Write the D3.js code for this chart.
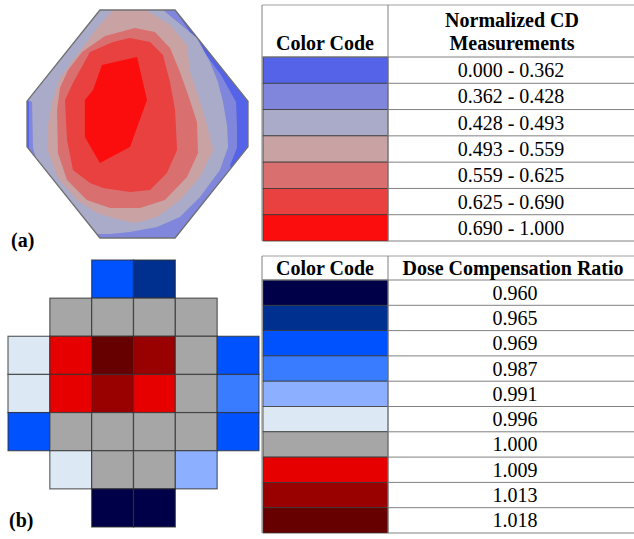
<!DOCTYPE html>
<html>
<head>
<meta charset="utf-8">
<script src="https://cdn.jsdelivr.net/npm/d3@7"></script>
<style>
  html, body { margin: 0; padding: 0; background: #fff; }
  svg { display: block; }
  text { font-family: "Liberation Serif", "Times New Roman", serif; fill: #000; }
</style>
</head>
<body>
<svg id="chart" width="634" height="539"></svg>
<script>
// ---------------- DATA ----------------
// (a) Normalized CD contour legend
const cdRanges = ["0.000 - 0.362", "0.362 - 0.428", "0.428 - 0.493", "0.493 - 0.559",
                  "0.559 - 0.625", "0.625 - 0.690", "0.690 - 1.000"];
const cdColors = ["#5563e8", "#7f86dc", "#a9abc8", "#c9a2a3", "#da6f6f", "#e94040", "#fb0d0d"];

// wafer outline (wafer coordinates 0..100)
const waferOutline = [[33,0],[67,0],[100,40],[100,60],[67,100],[33,100],[0,60],[0,40]];

// contour band outer boundaries (wafer coordinates), band index 1..6 -> cdRanges
const band1Outline = [[64.7,-3.1],[77.8,15.4],[87.8,28.5],[94.6,40.4],[95.0,50.4],[95.0,60.5],
  [91.9,68.0],[93.2,72.4],[85.1,85.5],[71.5,103],[30.8,103],[-3.2,61.4],[0.9,60.5],[0.9,40.4],
  [-3.2,37.3],[30.8,-4.4]];
const band2Outline = [[28.5,-4.4],[61.5,-3.1],[61.5,0],[76.9,12.3],[82.8,22.8],[86.4,31.6],
  [88.7,40.4],[90.5,50.4],[91.0,60.1],[87.3,70.2],[78.3,82.0],[69.2,90.8],[58.8,95.2],
  [46.6,97.4],[37.6,98.2],[30.8,98.2],[5.9,71.1],[2.7,60.5],[2.3,40.4],[-3.2,37.3]];
const band3Outline = [[9.5,50.4],[11.3,40.4],[14.9,29.8],[22.6,19.7],[31.7,7.9],[39.8,-0.9],
  [52.5,-0.9],[64.7,6.6],[72.4,15.4],[73.8,27.2],[76.9,36.0],[81.4,50.4],[84.2,61.4],
  [78.3,73.2],[69.2,83.3],[58.8,90.8],[48.9,93.4],[42.1,92.1],[31.7,89.0],[22.6,83.3],
  [13.6,73.2],[9.0,60.5]];
const band4Outline = [[13.6,43.9],[14.9,34.2],[18.6,26.3],[24.9,18.4],[35.3,11.4],[48.9,7.9],
  [57.9,9.6],[64.7,16.7],[69.2,27.2],[72.9,37.3],[76.9,49.1],[77.4,62.7],[72.4,73.2],
  [62.4,83.3],[51.1,86.8],[37.6,86.8],[27.1,83.3],[18.1,74.6],[14.0,62.7]];
const band5Outline = [[17.2,39.5],[20.8,32.0],[28.5,18.4],[38.9,14.0],[46.6,12.3],[55.7,14.0],
  [61.5,19.7],[64.7,31.6],[67.0,43.9],[67.9,61.4],[63.3,71.5],[55.7,78.9],[46.6,79.8],
  [34.4,78.1],[28.5,75.9],[20.8,70.2],[18.1,57.0]];
const band6Outline = [[33.9,24.1],[49.8,20.6],[54.3,39.5],[46.6,60.1],[33.0,67.1],[26.2,55.7],
  [26.2,39.5],[29.9,35.1]];

// (b) Dose compensation ratio legend
const ratioLabels = ["0.960", "0.965", "0.969", "0.987", "0.991", "0.996", "1.000", "1.009", "1.013", "1.018"];
const ratioColors = ["#000048", "#00308f", "#0052ff", "#3a7cff", "#8cb0ff", "#dce9f5", "#a6a6a6", "#e60000", "#990000", "#660000"];

// dose map (rows top->bottom, cols left->right), null = no field
const doseMap = [
  [null,    null,    "0.969", "0.965", null,    null   ],
  [null,    "1.000", "1.000", "1.000", "1.000", null   ],
  ["0.996", "1.009", "1.018", "1.013", "1.000", "0.969"],
  ["0.996", "1.009", "1.013", "1.009", "1.000", "0.987"],
  ["0.969", "1.000", "1.000", "1.000", "1.000", "0.969"],
  [null,    "0.996", "1.000", "1.000", "0.991", null   ],
  [null,    null,    "0.960", "0.960", null,    null   ]
];

// ---------------- DRAW ----------------
const svg = d3.select("#chart");

// ---- (a) contour map ----
const xA = d3.scaleLinear().domain([0, 100]).range([27, 248]);
const yA = d3.scaleLinear().domain([0, 100]).range([10, 238]);
const lineA = d3.line().x(d => xA(d[0])).y(d => yA(d[1])).curve(d3.curveLinearClosed);

svg.append("defs").append("clipPath").attr("id", "wafer")
  .append("path").attr("d", lineA(waferOutline));

const gA = svg.append("g");
gA.append("path").attr("d", lineA(waferOutline)).attr("fill", cdColors[0]);

const bands = [band1Outline, band2Outline, band3Outline, band4Outline, band5Outline, band6Outline];
gA.append("g").attr("clip-path", "url(#wafer)")
  .selectAll("path").data(bands).join("path")
  .attr("d", d => lineA(d))
  .attr("fill", (d, i) => cdColors[i + 1]);

gA.append("path").attr("d", lineA(waferOutline))
  .attr("fill", "none").attr("stroke", "#707070").attr("stroke-width", 1.3);

svg.append("text").attr("x", 11).attr("y", 247)
  .attr("font-size", 20).attr("font-weight", "bold").text("(a)");

// ---- table helper ----
function drawTable(cfg) {
  const g = svg.append("g");
  const y = d3.scaleBand().domain(cfg.labels).range([cfg.bodyTop, cfg.bodyBottom]);
  g.selectAll("rect.sw").data(cfg.labels).join("rect")
    .attr("class", "sw")
    .attr("x", cfg.left + 1).attr("y", d => y(d))
    .attr("width", cfg.divider - cfg.left - 1).attr("height", y.bandwidth())
    .attr("fill", (d, i) => cfg.colors[i])
    .attr("stroke", "#3a3a3a").attr("stroke-width", 0.8);
  const ys = cfg.labels.map(d => y(d)).concat([cfg.bodyBottom]);
  g.selectAll("line.h").data(ys).join("line")
    .attr("x1", cfg.divider).attr("x2", cfg.right)
    .attr("y1", d => d).attr("y2", d => d)
    .attr("stroke", "#808080").attr("stroke-width", 1);
  g.append("line").attr("x1", cfg.left).attr("x2", cfg.right)
    .attr("y1", cfg.top).attr("y2", cfg.top)
    .attr("stroke", "#a0a0a0").attr("stroke-width", 1);
  g.append("line").attr("x1", cfg.left).attr("x2", cfg.divider)
    .attr("y1", cfg.bodyTop).attr("y2", cfg.bodyTop)
    .attr("stroke", "#808080").attr("stroke-width", 1);
  [cfg.left, cfg.divider].forEach(x => {
    g.append("line").attr("x1", x).attr("x2", x)
      .attr("y1", cfg.top).attr("y2", cfg.bodyBottom)
      .attr("stroke", "#808080").attr("stroke-width", 1);
  });
  g.selectAll("text.v").data(cfg.labels).join("text")
    .attr("x", cfg.valueX).attr("y", d => y(d) + y.bandwidth() / 2)
    .attr("dy", "0.35em").attr("text-anchor", "middle")
    .attr("font-size", 20).text(d => d);
  g.append("text").attr("x", (cfg.left + cfg.divider) / 2).attr("y", cfg.headBase)
    .attr("text-anchor", "middle").attr("font-size", 20).attr("font-weight", "bold")
    .text("Color Code");
  cfg.header.forEach((t, i) => {
    g.append("text").attr("x", cfg.headX).attr("y", cfg.headBase - (cfg.header.length - 1 - i) * 23)
      .attr("text-anchor", "middle").attr("font-size", 20).attr("font-weight", "bold")
      .text(t);
  });
}

drawTable({
  labels: cdRanges, colors: cdColors,
  left: 262, divider: 388, right: 634,
  top: 5, bodyTop: 57, bodyBottom: 241,
  valueX: 511, headX: 512, headBase: 50,
  header: ["Normalized CD", "Measurements"]
});

// ---- (b) dose map ----
const cols = d3.range(doseMap[0].length);
const rows = d3.range(doseMap.length);
const xB = d3.scaleBand().domain(cols).range([8, 259]);
const yB = d3.scaleBand().domain(rows).range([260, 527]);
const colorB = d3.scaleOrdinal().domain(ratioLabels).range(ratioColors);

const cells = [];
doseMap.forEach((row, r) => row.forEach((v, c) => { if (v !== null) cells.push({ r, c, v }); }));

svg.append("g").selectAll("rect").data(cells).join("rect")
  .attr("x", d => xB(d.c)).attr("y", d => yB(d.r))
  .attr("width", xB.bandwidth()).attr("height", yB.bandwidth())
  .attr("fill", d => colorB(d.v))
  .attr("stroke", "rgba(50,50,50,0.75)").attr("stroke-width", 1.2);

svg.append("text").attr("x", 9).attr("y", 527)
  .attr("font-size", 20).attr("font-weight", "bold").text("(b)");

drawTable({
  labels: ratioLabels, colors: ratioColors,
  left: 262, divider: 388, right: 634,
  top: 256, bodyTop: 280, bodyBottom: 533,
  valueX: 515, headX: 513, headBase: 275,
  header: ["Dose Compensation Ratio"]
});
</script>
</body>
</html>
